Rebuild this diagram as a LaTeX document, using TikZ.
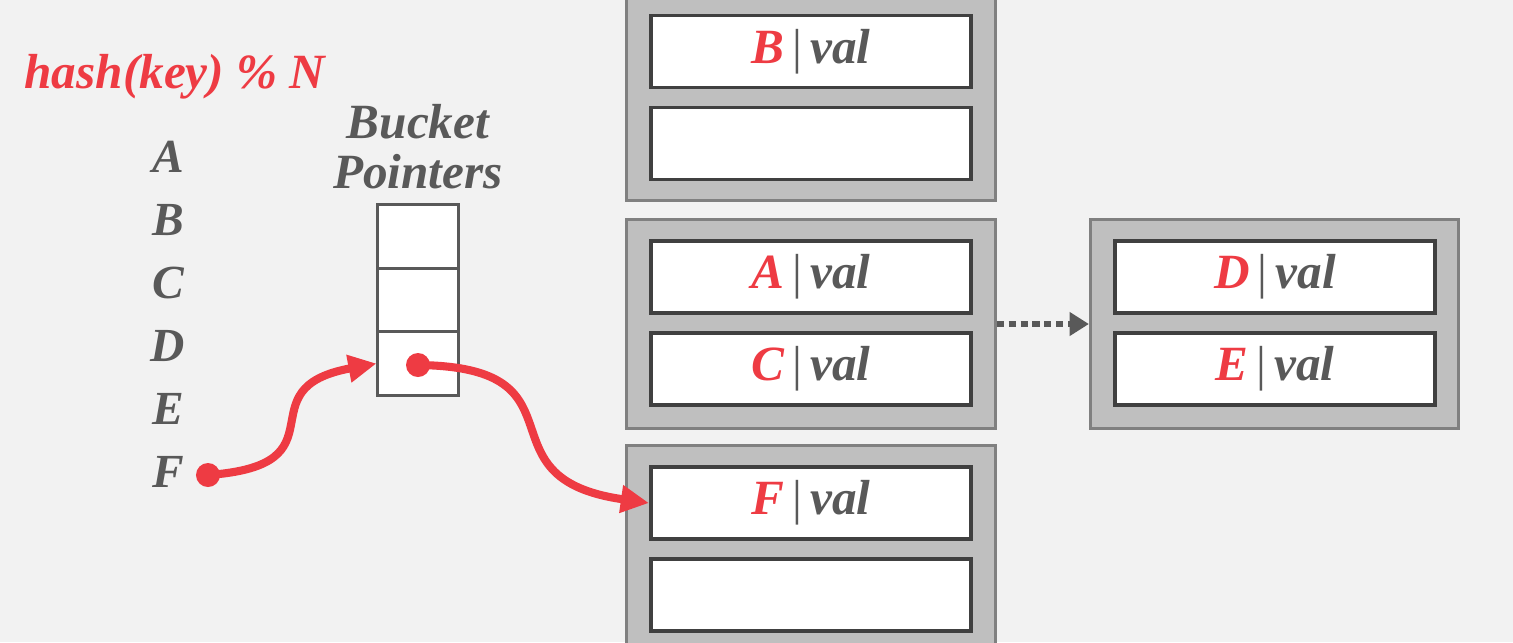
\documentclass[tikz,border=0pt]{standalone}
\usepackage{fontspec}
\setmainfont{Liberation Serif}
\usetikzlibrary{arrows.meta}
\definecolor{hashred}{RGB}{238,59,67}
\definecolor{inkgray}{RGB}{89,89,89}
\definecolor{bggray}{RGB}{242,242,242}
\definecolor{bucketfill}{RGB}{191,191,191}
\definecolor{bucketline}{RGB}{128,128,128}
\definecolor{cellline}{RGB}{64,64,64}
\tikzset{
  bucket/.style= {draw=bucketline, fill=bucketfill, line width=0.85pt, minimum width=3.68cm, minimum height=2.08cm, inner sep=0},
  slot/.style= {draw=cellline, fill=white, line width=1.1pt, minimum width=3.2cm, minimum height=0.72cm, inner sep=0, text=inkgray, font=\fontsize{14}{16}\selectfont\bfseries\itshape},
  ptr/.style= {draw=inkgray, fill=white, line width=0.85pt, minimum width=0.8cm, minimum height=0.635cm, inner sep=0},
  keylbl/.style= {text=inkgray, anchor=base, font=\fontsize{13.5}{16}\selectfont\bfseries\itshape},
  dot/.style= {circle, fill=hashred, minimum size=0.24cm, inner sep=0},
  link/.style= {hashred, line width=2.3pt, -{Triangle[length=8pt,width=7.5pt]}},
  chain/.style= {inkgray, line width=1.6pt, dash pattern=on 2pt off 1.4pt, -{Triangle[length=5.5pt,width=6.5pt]}},
}
\newcommand{\kv}[1]{\textcolor{hashred}{#1}\,\textnormal{|}\,val}

\begin{document}
\begin{tikzpicture}[x=0.01cm, y=-0.01cm]
  \useasboundingbox (0,0) rectangle (1513,642);
  \clip (0,0) rectangle (1513,642);
  \fill [bggray] (0,0) rectangle (1513,642);

  \node [text=hashred, anchor=base, font=\fontsize{14}{16}\selectfont\bfseries\itshape] (hash) at (175,88) {hash(key) \% N};
  \node [keylbl, align=center, anchor=center, font=\fontsize{14}{14.2}\selectfont\bfseries\itshape] (bplabel) at (418,147) {Bucket\\Pointers};
  \foreach \k [count=\i] in {A,B,C,D,E,F}
    \node [keylbl] (k\k) at (168,109+63*\i) {\k};

  \node [ptr] (ptr1) at (418,236.5) {};
  \node [ptr] (ptr2) at (418,300) {};
  \node [ptr] (ptr3) at (418,363.5) {};

  \node [bucket] (btop) at (811,96) {};
  \node [bucket] (bmid) at (811,324) {};
  \node [bucket] (bbot) at (811,550) {};
  \node [bucket] (bright) at (1274.5,324) {};

  \node [slot] (bval) at (811,51.5) {\kv{B}};
  \node [slot] (bnil) at (811,143.5) {};
  \node [slot] (aval) at (811,277) {\kv{A}};
  \node [slot] (cval) at (811,369) {\kv{C}};
  \node [slot] (fval) at (811,503) {\kv{F}};
  \node [slot] (fnil) at (811,595) {};
  \node [slot] (dval) at (1275,277) {\kv{D}};
  \node [slot] (eval) at (1275,369) {\kv{E}};

  \node [dot] (fdot) at (208,475) {};
  \node [dot] (pdot) at (418,365) {};

  \draw [link] (fdot.center) .. controls +(140,-10) and +(-135,25) .. (ptr3.west);
  \draw [link] (pdot.center) .. controls +(175,2) and +(-175,-25) .. (fval.west);
  \draw [chain] (bmid.east) -- (bright.west);
\end{tikzpicture}
\end{document}
